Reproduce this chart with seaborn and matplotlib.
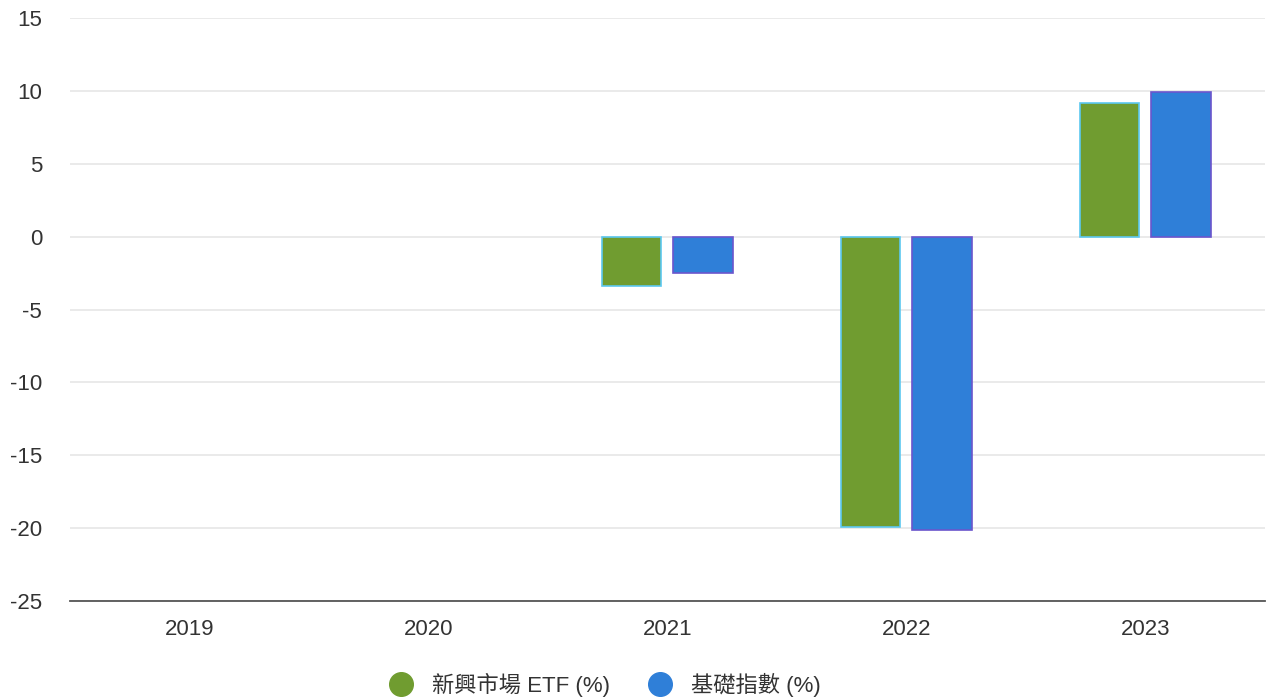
import pandas as pd
import matplotlib.pyplot as plt
import seaborn as sns
from matplotlib.lines import Line2D

years = ['2019', '2020', '2021', '2022', '2023']
etf = [None, None, -3.4, -19.9, 9.2]
index = [None, None, -2.5, -20.1, 9.9]
series_names = ['新興市場 ETF (%)', '基礎指數 (%)']
colors = ['#709c30', '#2f7fd8']
edges = ['#5cc8f0', '#6a55cc']

rows = []
for y, a, b in zip(years, etf, index):
    rows.append({'year': y, 'series': series_names[0], 'value': a})
    rows.append({'year': y, 'series': series_names[1], 'value': b})
df = pd.DataFrame(rows)

sns.set_style('white')
plt.rcParams['font.family'] = ['Liberation Sans', 'Noto Sans CJK TC', 'DejaVu Sans']
plt.rcParams['axes.unicode_minus'] = False

fig = plt.figure(figsize=(12.66, 6.99), dpi=100)
ax = fig.add_axes([0.0553, 0.1402, 0.9437, 0.834])

sns.barplot(data=df, x='year', y='value', hue='series', order=years,
            hue_order=series_names, palette=colors, width=0.6, gap=0.17,
            ax=ax, legend=False, saturation=1)

# bar outlines differ per series
for i, cont in enumerate(ax.containers):
    for bar in cont:
        bar.set_edgecolor(edges[i])
        bar.set_linewidth(1.2)

ax.set_xlim(-0.5, 4.5)
ax.set_ylim(-25, 15)
ax.set_yticks(range(-25, 16, 5))
ax.yaxis.grid(True, color='#e6e6e6', linewidth=1.2)
ax.set_axisbelow(True)
ax.set_xlabel('')
ax.set_ylabel('')
for s in ['top', 'right', 'left']:
    ax.spines[s].set_visible(False)
ax.spines['bottom'].set_color('#555555')
ax.spines['bottom'].set_linewidth(1.3)
ax.tick_params(axis='y', length=0, pad=20, labelsize=16, labelcolor='#333333')
ax.tick_params(axis='x', length=0, pad=13, labelsize=16, labelcolor='#333333')

handles = [Line2D([], [], marker='o', linestyle='', markersize=17,
                  markerfacecolor=c, markeredgecolor=c) for c in colors]
fig.legend(handles, series_names, loc='center', bbox_to_anchor=(0.474, 0.02),
           ncol=2, frameon=False, fontsize=16, handletextpad=0.4,
           columnspacing=1.25, labelcolor='#333333')

fig.savefig('out.png', dpi=100)
